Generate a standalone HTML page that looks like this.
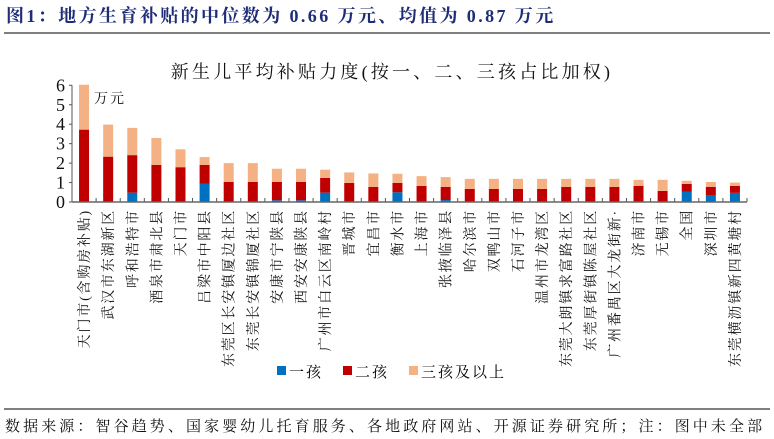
<!DOCTYPE html>
<html><head><meta charset="utf-8"><style>
body{margin:0;background:#fff;width:774px;height:439px;overflow:hidden}
svg{display:block;font-family:"Liberation Serif","Noto Serif CJK SC",serif}
</style></head><body>
<svg id="c" width="774" height="439">
<text x="6" y="22" font-size="18" font-weight="bold" fill="#1f2d78" letter-spacing="2.4">图1：地方生育补贴的中位数为 0.66 万元、均值为 0.87 万元</text>
<line x1="4" y1="33" x2="770" y2="33" stroke="#333" stroke-width="1.2"/>
<text x="392" y="78" font-size="18" letter-spacing="3.2" text-anchor="middle" fill="#111">新生儿平均补贴力度(按一、二、三孩占比加权)</text>
<text x="94" y="103" font-size="14" letter-spacing="2" fill="#111">万元</text>
<g id="plot"></g>
<g>
<rect x="277" y="366" width="9" height="9" fill="#0070c0"/>
<text x="289" y="377" font-size="15" letter-spacing="2">一孩</text>
<rect x="343" y="366" width="9" height="9" fill="#c00000"/>
<text x="355" y="377" font-size="15" letter-spacing="2">二孩</text>
<rect x="409" y="366" width="9" height="9" fill="#f4b183"/>
<text x="421" y="377" font-size="15" letter-spacing="2">三孩及以上</text>
</g>
<line x1="4" y1="409" x2="770" y2="409" stroke="#333" stroke-width="1.2"/>
<text x="5" y="431" font-size="15" letter-spacing="3.1" fill="#111">数据来源：智谷趋势、国家婴幼儿托育服务、各地政府网站、开源证券研究所；注：图中未全部</text>
</svg>
<script>
const categories=["天门市(含购房补贴)","武汉市东湖新区","呼和浩特市","酒泉市肃北县","天门市","吕梁市中阳县","东莞区长安镇厦边社区","东莞长安镇锦厦社区","安康市宁陕县","西安安康陕县","广州市白云区南岭村","晋城市","宜昌市","衡水市","上海市","张掖临泽县","哈尔滨市","双鸭山市","石河子市","温州市龙湾区","东莞大朗镇求富路社区","东莞厚街镇陈屋社区","广州番禺区大龙街新·","济南市","无锡市","全国","深圳市","东莞横沥镇新四黄塘村"];
const firstChild=[0,0,0.48,0,0,0.95,0,0,0.09,0.09,0.48,0,0,0.5,0,0.1,0,0,0,0,0,0,0,0,0,0.52,0.34,0.47];
const secondChild=[3.72,2.33,1.93,1.91,1.79,0.96,1.03,1.03,0.94,0.94,0.76,0.98,0.78,0.48,0.83,0.68,0.67,0.67,0.67,0.67,0.78,0.78,0.78,0.83,0.57,0.41,0.44,0.36];
const thirdPlus=[2.31,1.65,1.40,1.38,0.92,0.40,0.97,0.97,0.68,0.68,0.42,0.54,0.69,0.47,0.50,0.50,0.52,0.52,0.52,0.52,0.41,0.41,0.41,0.31,0.57,0.16,0.25,0.17];
const yTicks=[0,1,2,3,4,5,6];
const NS="http://www.w3.org/2000/svg";
const g=document.getElementById('plot');
const x0=72,x1=747,y0=202,pxPerUnit=19.45;
const step=(x1-x0)/categories.length;
const y=v=>y0-v*pxPerUnit;
const xc=i=>x0+step*(i+0.5);
function mk(t,a){const e=document.createElementNS(NS,t);for(const k in a)e.setAttribute(k,a[k]);g.appendChild(e);return e;}
const ya=mk('line',{x1:x0,y1:y(6),x2:x0,y2:y0,stroke:'#555'});


yTicks.forEach(v=>{
 const t=mk('text',{x:x0-7,y:y(v)+6,'font-size':18,'text-anchor':'end',fill:'#111'});
 t.textContent=v;
 
 
 mk('line',{x1:x0-3,y1:y(v),x2:x0,y2:y(v),stroke:'#555'});
});
const cols=['#0070c0','#c00000','#f4b183'];
const names=['bar-first-child','bar-second-child','bar-third-plus'];
categories.forEach((c,i)=>{
 let base=0;
 [firstChild[i],secondChild[i],thirdPlus[i]].forEach((v,k)=>{
  if(v>0){
   const r=mk('rect',{x:xc(i)-5,y:y(base+v),width:10,height:v*pxPerUnit,fill:cols[k]});
   
   
  }
  base+=v;
 });
 mk('line',{x1:x0+step*(i+1),y1:y0,x2:x0+step*(i+1),y2:y0-4,stroke:'#555'});
 const t=mk('text',{transform:`translate(${xc(i)+5},${y0+7}) rotate(-90)`,'font-size':14,'letter-spacing':1.8,'text-anchor':'end',fill:'#111'});
 t.textContent=c;
 
 
});
const xa=mk('line',{x1:x0,y1:y0,x2:x1,y2:y0,stroke:'#666','stroke-width':1.5});


</script>
</body></html>
